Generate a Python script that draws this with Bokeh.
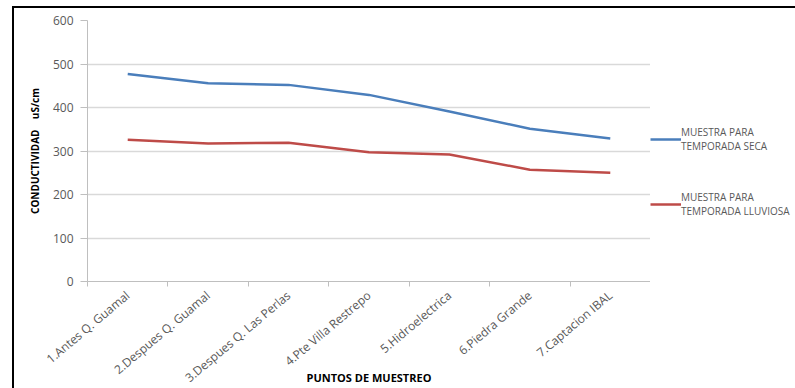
from bokeh.embed import file_html
from bokeh.layouts import row
from bokeh.models import FixedTicker, Legend, LegendItem, Range1d
from bokeh.plotting import figure
from bokeh.resources import INLINE

# Sampling points along the river and conductivity (uS/cm) per season
puntos = [
    "1.Antes Q. Guamal",
    "2.Despues Q. Guamal",
    "3.Despues Q. Las Perlas",
    "4.Pte Villa Restrepo",
    "5.Hidroelectrica",
    "6.Piedra Grande",
    "7.Captacion IBAL",
]
temporada_seca = [477, 456, 452, 429, 391, 351, 329]
temporada_lluvias = [326, 317, 319, 297, 292, 257, 250]
y_ticks = [0, 100, 200, 300, 400, 500, 600]
series_labels = ["MUESTRA PARA\nTEMPORADA SECA", "MUESTRA PARA\nTEMPORADA LLUVIOSA"]

FONT = "Open Sans"
GREY_TEXT = "#595959"
BLUE = "#4a7ebb"
RED = "#be4b48"
H = 380
TOP, BOTTOM = 12, 107

centers = [i + 0.5 for i in range(len(puntos))]
boundaries = list(range(len(puntos) + 1))

# ---- main chart -------------------------------------------------------
p = figure(
    width=636, height=H,
    output_backend="svg", toolbar_location=None,
    x_range=Range1d(0, len(puntos)), y_range=Range1d(0, 600),
    min_border_left=73, min_border_right=0,
    min_border_top=TOP, min_border_bottom=BOTTOM,
)
p.outline_line_color = None
p.background_fill_color = "white"
p.border_fill_color = "white"

p.line(centers, temporada_seca, line_color=BLUE, line_width=2.5)
p.line(centers, temporada_lluvias, line_color=RED, line_width=2.5)

# y axis
p.yaxis.ticker = FixedTicker(ticks=y_ticks)
p.yaxis.axis_line_color = "#bfbfbf"
p.yaxis.major_tick_line_color = "#bfbfbf"
p.yaxis.major_tick_out = 7
p.yaxis.major_tick_in = 0
p.yaxis.minor_tick_line_color = None
p.yaxis.major_label_text_font = FONT
p.yaxis.major_label_text_font_size = "12px"
p.yaxis.major_label_text_color = GREY_TEXT
p.yaxis.major_label_standoff = 7
p.yaxis.axis_label = "CONDUCTIVIDAD\u00a0\u00a0\u00a0\u00a0uS/cm"
p.yaxis.axis_label_text_font = FONT
p.yaxis.axis_label_text_font_size = "10px"
p.yaxis.axis_label_text_font_style = "bold"
p.yaxis.axis_label_text_color = "black"
p.yaxis.axis_label_standoff = 8

# x axis: names at the centres, tick marks between categories
p.xaxis.ticker = FixedTicker(ticks=centers, minor_ticks=boundaries)
p.xaxis.major_label_overrides = {c: n for c, n in zip(centers, puntos)}
p.xaxis.major_label_orientation = 0.70
p.xaxis.major_tick_line_color = None
p.xaxis.minor_tick_line_color = "#bfbfbf"
p.xaxis.minor_tick_out = 5
p.xaxis.minor_tick_in = 0
p.xaxis.axis_line_color = "#bfbfbf"
p.xaxis.major_label_text_font = FONT
p.xaxis.major_label_text_font_size = "12px"
p.xaxis.major_label_text_color = GREY_TEXT
p.xaxis.major_label_standoff = 6
p.xaxis.axis_label = "PUNTOS DE MUESTREO"
p.xaxis.axis_label_text_font = FONT
p.xaxis.axis_label_text_font_size = "11px"
p.xaxis.axis_label_text_font_style = "bold"
p.xaxis.axis_label_text_color = "black"
p.xaxis.axis_label_standoff = -25

p.xgrid.grid_line_color = None
p.ygrid.ticker = FixedTicker(ticks=y_ticks)
p.ygrid.grid_line_color = "#d9d9d9"
p.ygrid.grid_line_width = 1.5

# ---- legend column ----------------------------------------------------
q = figure(
    width=795 - 650, height=H,
    output_backend="svg", toolbar_location=None,
    x_range=Range1d(0, 1), y_range=Range1d(0, 1),
    x_axis_type=None, y_axis_type=None,
    min_border_left=0, min_border_right=0,
    min_border_top=TOP, min_border_bottom=BOTTOM,
)
q.outline_line_color = None
q.grid.grid_line_color = None
# swatch renderers for the legend; their points lie outside the visible range
k_seca = q.line([5, 6], [5, 6], line_color=BLUE, line_width=2.5)
k_lluvias = q.line([5, 6], [5, 6], line_color=RED, line_width=2.5)

legend = Legend(
    items=[
        LegendItem(label=series_labels[0], renderers=[k_seca]),
        LegendItem(label=series_labels[1], renderers=[k_lluvias]),
    ],
    location=(0, 63),
    orientation="vertical",
    background_fill_alpha=0,
    border_line_color=None,
    label_text_font=FONT,
    label_text_font_size="10px",
    label_text_color=GREY_TEXT,
    glyph_width=31,
    label_standoff=0,
    spacing=37,
    padding=0,
    margin=0,
)
q.add_layout(legend, "center")

# both panels sit inside a black frame offset from the page corner
layout = row(p, q, spacing=0)
layout.margin = (6, 0, 0, 12)
layout.styles = {"border-top": "2px solid black", "border-left": "2px solid black"}

open("out.html", "w").write(file_html(layout, INLINE))
